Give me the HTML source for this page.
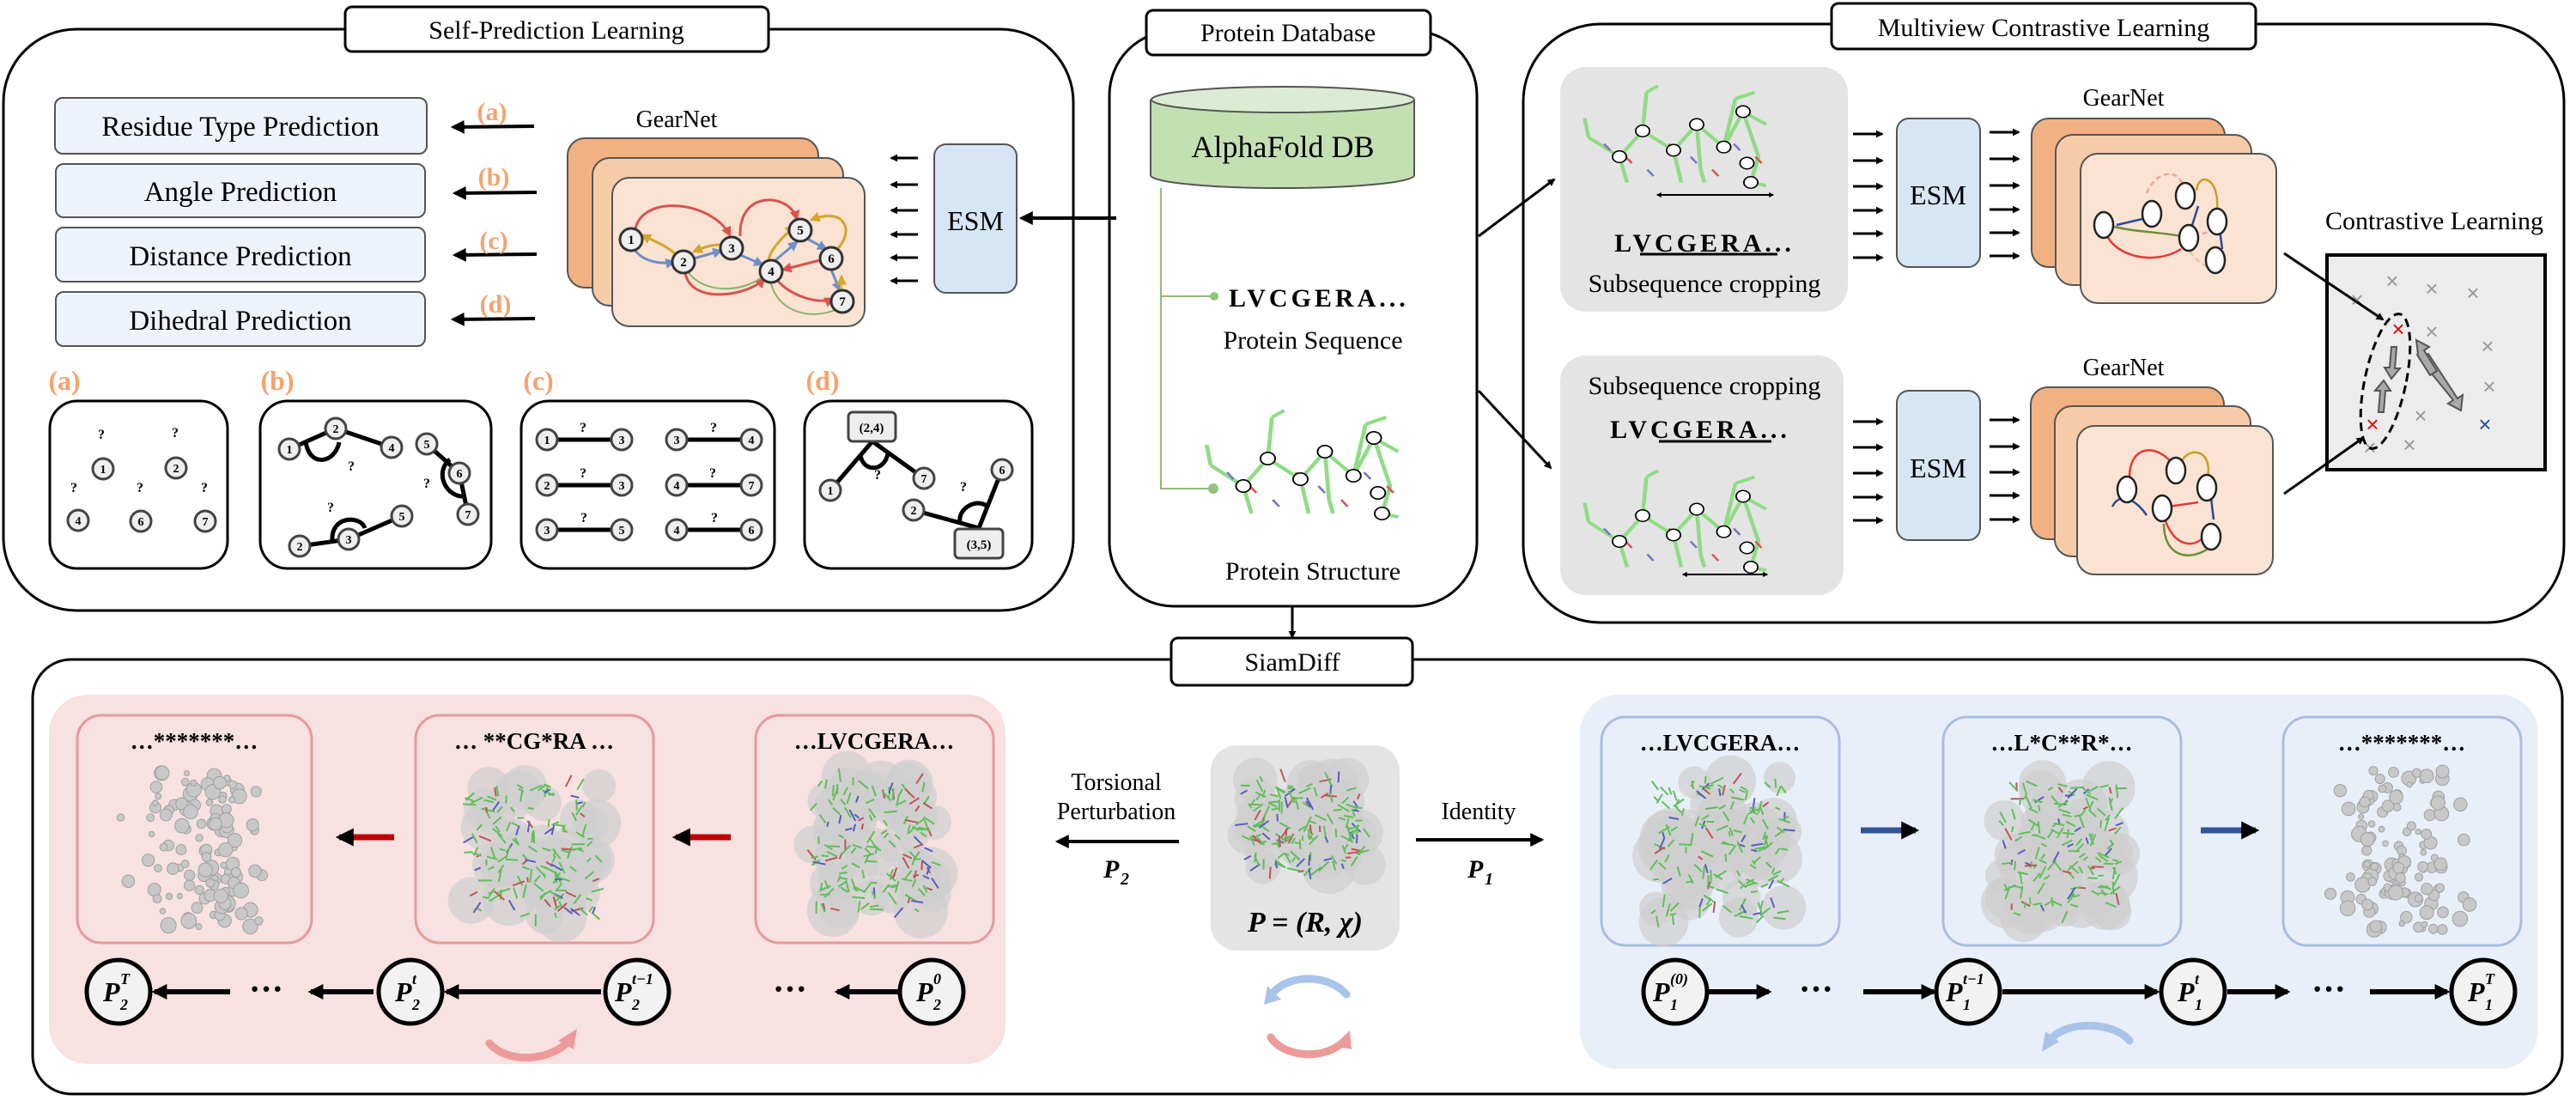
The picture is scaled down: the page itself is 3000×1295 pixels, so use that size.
<!DOCTYPE html>
<html><head><meta charset="utf-8">
<style>
html,body{margin:0;padding:0;background:#fff;}
svg{display:block;}
svg text{font-family:"Liberation Serif",serif;}
svg text.sans{font-family:"Liberation Sans",sans-serif;}
</style></head>
<body>
<svg id="s" width="3000" height="1295" viewBox="0 0 3000 1295" xmlns="http://www.w3.org/2000/svg" font-family="'Liberation Serif', serif">
<defs>
<marker id="ah" viewBox="0 0 10 10" refX="8" refY="5" markerWidth="4" markerHeight="4" orient="auto-start-reverse"><path d="M0,0 L10,5 L0,10 z" fill="#000"/></marker>
<marker id="ahs" viewBox="0 0 10 10" refX="8" refY="5" markerWidth="3" markerHeight="3" orient="auto-start-reverse"><path d="M0,0 L10,5 L0,10 z" fill="#000"/></marker>
<marker id="mr" viewBox="0 0 10 10" refX="8" refY="5" markerWidth="4" markerHeight="4" orient="auto"><path d="M0,0 L10,5 L0,10 z" fill="#d9534f"/></marker>
<marker id="mb" viewBox="0 0 10 10" refX="8" refY="5" markerWidth="4" markerHeight="4" orient="auto"><path d="M0,0 L10,5 L0,10 z" fill="#6f8fc7"/></marker>
<marker id="my" viewBox="0 0 10 10" refX="8" refY="5" markerWidth="4" markerHeight="4" orient="auto"><path d="M0,0 L10,5 L0,10 z" fill="#d4a52a"/></marker>
</defs>

<!-- ============ SELF-PREDICTION ============ -->
<rect x="4" y="34" width="1246" height="677" rx="85" fill="none" stroke="#000" stroke-width="3"/>
<rect x="402" y="8" width="493" height="52" rx="8" fill="#fff" stroke="#000" stroke-width="3"/>
<text x="648" y="45" font-size="30" text-anchor="middle">Self-Prediction Learning</text>

<g fill="#eef2fb" stroke="#555" stroke-width="2">
<rect x="64" y="114" width="433" height="65" rx="9"/>
<rect x="65" y="191" width="430" height="62" rx="9"/>
<rect x="65" y="265" width="430" height="63" rx="9"/>
<rect x="65" y="340" width="430" height="63" rx="9"/>
</g>
<g font-size="33" text-anchor="middle">
<text x="280" y="158">Residue Type Prediction</text>
<text x="280" y="234">Angle Prediction</text>
<text x="280" y="309">Distance Prediction</text>
<text x="280" y="384">Dihedral Prediction</text>
</g>
<g stroke="#000" stroke-width="4" marker-end="url(#ah)">
<line x1="622" y1="147" x2="528" y2="148"/>
<line x1="625" y1="224" x2="530" y2="225"/>
<line x1="625" y1="296" x2="530" y2="297"/>
<line x1="623" y1="371" x2="528" y2="372"/>
</g>
<g font-size="30" font-weight="bold" fill="#f4a46e" text-anchor="middle">
<text x="573" y="140">(a)</text><text x="575" y="216">(b)</text><text x="575" y="290">(c)</text><text x="577" y="364">(d)</text>
</g>
<text x="788" y="148" font-size="28" text-anchor="middle">GearNet</text>
<rect x="661" y="161" width="292" height="174" rx="20" fill="#f2b183" stroke="#555" stroke-width="2"/>
<rect x="690" y="184" width="292" height="172" rx="20" fill="#f7cba7" stroke="#555" stroke-width="2"/>
<rect x="713" y="207" width="294" height="173" rx="20" fill="#fae3d3" stroke="#555" stroke-width="2"/>
<g fill="none" stroke-width="3">
<path d="M740,266 C750,225 830,235 850,274" stroke="#d9534f" marker-end="url(#mr)"/>
<path d="M862,275 C860,220 920,225 928,255" stroke="#d9534f" marker-end="url(#mr)"/>
<path d="M798,318 C805,355 870,345 890,325" stroke="#d9534f" marker-end="url(#mr)"/>
<path d="M905,326 C920,345 955,355 970,348" stroke="#d9534f" marker-end="url(#mr)"/>
<path d="M955,303 L912,314" stroke="#d9534f" marker-end="url(#mr)"/>
<path d="M740,292 C750,305 770,308 785,305" stroke="#6f8fc7" marker-end="url(#mb)"/>
<path d="M808,301 L840,292" stroke="#6f8fc7" marker-end="url(#mb)"/>
<path d="M862,297 L888,308" stroke="#6f8fc7" marker-end="url(#mb)"/>
<path d="M903,303 L928,282" stroke="#6f8fc7" marker-end="url(#mb)"/>
<path d="M940,278 L962,290" stroke="#6f8fc7" marker-end="url(#mb)"/>
<path d="M968,314 L978,338" stroke="#6f8fc7" marker-end="url(#mb)"/>
<path d="M788,297 C775,285 760,280 748,274" stroke="#d4a52a" marker-end="url(#my)"/>
<path d="M840,285 C825,285 815,290 808,293" stroke="#d4a52a" marker-end="url(#my)"/>
<path d="M895,305 C895,290 920,268 925,265" stroke="#d4a52a" marker-end="url(#my)"/>
<path d="M975,290 C995,270 985,240 945,256" stroke="#d4a52a" marker-end="url(#my)"/>
<path d="M980,339 L980,322" stroke="#f5c518" marker-end="url(#my)"/>
<path d="M800,315 C820,345 870,340 890,320" stroke="#8ab36a" stroke-width="2"/>
<path d="M975,360 C940,375 905,360 898,330" stroke="#8ab36a" stroke-width="2"/>
</g>
<g font-size="15" font-weight="bold" text-anchor="middle">
<g fill="#eee" stroke="#333" stroke-width="3">
<circle cx="735" cy="279" r="13"/><circle cx="796" cy="305" r="13"/><circle cx="852" cy="289" r="13"/><circle cx="898" cy="316" r="13"/><circle cx="932" cy="268" r="13"/><circle cx="968" cy="301" r="13"/><circle cx="981" cy="351" r="13"/>
</g>
<text x="735" y="284">1</text><text x="796" y="310">2</text><text x="852" y="294">3</text><text x="898" y="321">4</text><text x="932" y="273">5</text><text x="968" y="306">6</text><text x="981" y="356">7</text>
</g>
<rect x="1088" y="168" width="96" height="173" rx="14" fill="#d6e6f5" stroke="#555" stroke-width="2"/>
<text x="1136" y="268" font-size="32" text-anchor="middle">ESM</text>
<g stroke="#000" stroke-width="3" marker-end="url(#ahs)">
<line x1="1069" y1="184" x2="1038" y2="184"/><line x1="1069" y1="215" x2="1038" y2="215"/><line x1="1069" y1="245" x2="1038" y2="245"/><line x1="1069" y1="273" x2="1038" y2="273"/><line x1="1069" y1="300" x2="1038" y2="300"/><line x1="1069" y1="327" x2="1038" y2="327"/>
</g>
<line x1="1300" y1="254" x2="1190" y2="254" stroke="#000" stroke-width="4" marker-end="url(#ah)"/>

<g font-size="32" font-weight="bold" fill="#f4a46e" text-anchor="middle">
<text x="75" y="454">(a)</text><text x="323" y="454">(b)</text><text x="627" y="454">(c)</text><text x="958" y="454">(d)</text>
</g>
<g fill="none" stroke="#000" stroke-width="3">
<rect x="58" y="467" width="207" height="195" rx="32"/>
<rect x="303" y="467" width="269" height="195" rx="32"/>
<rect x="607" y="467" width="295" height="195" rx="32"/>
<rect x="937" y="467" width="265" height="195" rx="32"/>
</g>
<g font-size="14" font-weight="bold" text-anchor="middle">
<g stroke="#000" stroke-width="5" fill="none">
<path d="M337,523 L391,499 L456,521"/><path d="M356,514 C360,545 390,540 395,515"/>
<path d="M497,517 L535,551 L545,599"/><path d="M524,535 C505,550 520,580 541,578"/>
<path d="M349,636 L406,628 L468,601"/><path d="M387,630 C385,600 420,600 425,615"/>
<line x1="637" y1="512" x2="724" y2="512"/><line x1="788" y1="512" x2="875" y2="512"/>
<line x1="637" y1="565" x2="724" y2="565"/><line x1="788" y1="565" x2="875" y2="565"/>
<line x1="637" y1="617" x2="724" y2="617"/><line x1="788" y1="617" x2="875" y2="617"/>
<path d="M967,571 L1016,514 L1076,557"/><path d="M1002,530 C1005,550 1030,550 1034,528"/>
<path d="M1064,594 L1140,615 L1167,547"/><path d="M1118,609 C1115,590 1140,580 1150,590"/>
</g>
<g fill="#eee" stroke="#444" stroke-width="3">
<circle cx="120" cy="546" r="12"/><circle cx="205" cy="545" r="12"/><circle cx="91" cy="606" r="12"/><circle cx="164" cy="607" r="12"/><circle cx="239" cy="607" r="12"/>
<circle cx="337" cy="523" r="12"/><circle cx="391" cy="499" r="12"/><circle cx="456" cy="521" r="12"/><circle cx="497" cy="517" r="12"/><circle cx="535" cy="551" r="12"/><circle cx="545" cy="599" r="12"/><circle cx="349" cy="636" r="12"/><circle cx="406" cy="628" r="12"/><circle cx="468" cy="601" r="12"/>
<circle cx="637" cy="512" r="12"/><circle cx="724" cy="512" r="12"/><circle cx="788" cy="512" r="12"/><circle cx="875" cy="512" r="12"/>
<circle cx="637" cy="565" r="12"/><circle cx="724" cy="565" r="12"/><circle cx="788" cy="565" r="12"/><circle cx="875" cy="565" r="12"/>
<circle cx="637" cy="617" r="12"/><circle cx="724" cy="617" r="12"/><circle cx="788" cy="617" r="12"/><circle cx="875" cy="617" r="12"/>
<circle cx="967" cy="571" r="12"/><circle cx="1076" cy="557" r="12"/><circle cx="1167" cy="547" r="12"/><circle cx="1064" cy="594" r="12"/>
</g>
<rect x="988" y="480" width="55" height="34" rx="5" fill="#eee" stroke="#444" stroke-width="3"/>
<rect x="1112" y="616" width="56" height="34" rx="5" fill="#eee" stroke="#444" stroke-width="3"/>
<text x="1015" y="503" font-size="15">(2,4)</text><text x="1140" y="639" font-size="15">(3,5)</text>
<text x="120" y="551">1</text><text x="205" y="550">2</text><text x="91" y="611">4</text><text x="164" y="612">6</text><text x="239" y="612">7</text>
<text x="337" y="528">1</text><text x="391" y="504">2</text><text x="456" y="526">4</text><text x="497" y="522">5</text><text x="535" y="556">6</text><text x="545" y="604">7</text><text x="349" y="641">2</text><text x="406" y="633">3</text><text x="468" y="606">5</text>
<text x="637" y="517">1</text><text x="724" y="517">3</text><text x="788" y="517">3</text><text x="875" y="517">4</text>
<text x="637" y="570">2</text><text x="724" y="570">3</text><text x="788" y="570">4</text><text x="875" y="570">7</text>
<text x="637" y="622">3</text><text x="724" y="622">5</text><text x="788" y="622">4</text><text x="875" y="622">6</text>
<text x="967" y="576">1</text><text x="1076" y="562">7</text><text x="1167" y="552">6</text><text x="1064" y="599">2</text>
<g font-size="16">
<text x="118" y="511">?</text><text x="204" y="509">?</text><text x="86" y="573">?</text><text x="163" y="573">?</text><text x="238" y="573">?</text>
<text x="409" y="548">?</text><text x="497" y="568">?</text><text x="385" y="596">?</text>
<text x="679" y="503">?</text><text x="831" y="503">?</text><text x="679" y="556">?</text><text x="830" y="556">?</text><text x="680" y="608">?</text><text x="832" y="608">?</text>
<text x="1022" y="558">?</text><text x="1122" y="572">?</text>
</g>
</g>

<!-- ============ PROTEIN DATABASE ============ -->
<rect x="1292" y="36" width="428" height="670" rx="75" fill="none" stroke="#000" stroke-width="3"/>
<rect x="1335" y="12" width="331" height="52" rx="8" fill="#fff" stroke="#000" stroke-width="3"/>
<text x="1500" y="48" font-size="30" text-anchor="middle">Protein Database</text>
<path d="M1340,116 L1340,204 A153,15 0 0 0 1647,204 L1647,116" fill="#c3e0b3" stroke="#555" stroke-width="2"/>
<ellipse cx="1494" cy="116" rx="153" ry="15" fill="#dcecd2" stroke="#555" stroke-width="2"/>
<text x="1494" y="183" font-size="36" text-anchor="middle">AlphaFold DB</text>
<path d="M1352,219 L1352,569 L1410,569 M1352,345 L1410,345" fill="none" stroke="#6aa84f" stroke-width="1.5"/>
<circle cx="1414" cy="345" r="5" fill="#93c47d"/><circle cx="1413" cy="569" r="6" fill="#93c47d"/>
<text x="1431" y="357" font-size="30" font-weight="bold" letter-spacing="4">LVCGERA...</text>
<text x="1529" y="406" font-size="30" text-anchor="middle">Protein Sequence</text>
<text x="1529" y="675" font-size="30" text-anchor="middle">Protein Structure</text>
<g id="mol1" transform="translate(1410,478) scale(0.95,0.8)"></g>
<line x1="1505" y1="706" x2="1505" y2="742" stroke="#000" stroke-width="3" marker-end="url(#ahs)"/>

<!-- ============ MULTIVIEW ============ -->
<rect x="1774" y="28" width="1212" height="697" rx="90" fill="none" stroke="#000" stroke-width="3"/>
<rect x="2133" y="4" width="494" height="53" rx="8" fill="#fff" stroke="#000" stroke-width="3"/>
<text x="2380" y="42" font-size="30" text-anchor="middle">Multiview Contrastive Learning</text>
<line x1="1722" y1="275" x2="1810" y2="209" stroke="#000" stroke-width="3" marker-end="url(#ahs)"/>
<line x1="1722" y1="455" x2="1806" y2="545" stroke="#000" stroke-width="3" marker-end="url(#ahs)"/>
<rect x="1817" y="78" width="335" height="285" rx="30" fill="#e4e4e4"/>
<rect x="1817" y="414" width="330" height="279" rx="30" fill="#e4e4e4"/>
<g id="mol2" transform="translate(1850,100) scale(0.9,0.75)"></g>
<g id="mol3" transform="translate(1850,548) scale(0.9,0.75)"></g>
<line x1="1930" y1="227" x2="2065" y2="227" stroke="#000" stroke-width="2" marker-start="url(#ahs)" marker-end="url(#ahs)"/>
<line x1="1960" y1="669" x2="2058" y2="669" stroke="#000" stroke-width="2" marker-start="url(#ahs)" marker-end="url(#ahs)"/>
<text x="1985" y="293" font-size="30" font-weight="bold" text-anchor="middle" letter-spacing="4">LVCGERA...</text>
<line x1="1910" y1="296" x2="2070" y2="296" stroke="#000" stroke-width="3"/>
<text x="1985" y="340" font-size="30" text-anchor="middle">Subsequence cropping</text>
<text x="1985" y="459" font-size="30" text-anchor="middle">Subsequence cropping</text>
<text x="1980" y="510" font-size="30" font-weight="bold" text-anchor="middle" letter-spacing="4">LVCGERA...</text>
<line x1="1932" y1="514" x2="2063" y2="514" stroke="#000" stroke-width="3"/>
<rect x="2209" y="138" width="97" height="173" rx="14" fill="#d6e6f5" stroke="#555" stroke-width="2"/>
<text x="2257" y="238" font-size="32" text-anchor="middle">ESM</text>
<rect x="2209" y="455" width="97" height="174" rx="14" fill="#d6e6f5" stroke="#555" stroke-width="2"/>
<text x="2257" y="556" font-size="32" text-anchor="middle">ESM</text>
<g stroke="#000" stroke-width="3" marker-end="url(#ahs)">
<line x1="2158" y1="156" x2="2192" y2="156"/><line x1="2158" y1="187" x2="2192" y2="187"/><line x1="2158" y1="217" x2="2192" y2="217"/><line x1="2158" y1="245" x2="2192" y2="245"/><line x1="2158" y1="272" x2="2192" y2="272"/><line x1="2158" y1="300" x2="2192" y2="300"/>
<line x1="2317" y1="154" x2="2351" y2="154"/><line x1="2317" y1="185" x2="2351" y2="185"/><line x1="2317" y1="216" x2="2351" y2="216"/><line x1="2317" y1="244" x2="2351" y2="244"/><line x1="2317" y1="271" x2="2351" y2="271"/><line x1="2317" y1="298" x2="2351" y2="298"/>
<line x1="2158" y1="491" x2="2192" y2="491"/><line x1="2158" y1="521" x2="2192" y2="521"/><line x1="2158" y1="551" x2="2192" y2="551"/><line x1="2158" y1="579" x2="2192" y2="579"/><line x1="2158" y1="606" x2="2192" y2="606"/>
<line x1="2317" y1="489" x2="2351" y2="489"/><line x1="2317" y1="520" x2="2351" y2="520"/><line x1="2317" y1="550" x2="2351" y2="550"/><line x1="2317" y1="577" x2="2351" y2="577"/><line x1="2317" y1="605" x2="2351" y2="605"/>
</g>
<text x="2473" y="123" font-size="28" text-anchor="middle">GearNet</text>
<rect x="2366" y="138" width="225" height="173" rx="20" fill="#f2b183" stroke="#555" stroke-width="2"/>
<rect x="2394" y="157" width="228" height="175" rx="20" fill="#f7cba7" stroke="#555" stroke-width="2"/>
<rect x="2423" y="179" width="228" height="174" rx="20" fill="#fae3d3" stroke="#555" stroke-width="2"/>
<text x="2473" y="437" font-size="28" text-anchor="middle">GearNet</text>
<rect x="2365" y="451" width="225" height="177" rx="20" fill="#f2b183" stroke="#555" stroke-width="2"/>
<rect x="2393" y="473" width="228" height="175" rx="20" fill="#f7cba7" stroke="#555" stroke-width="2"/>
<rect x="2419" y="496" width="228" height="173" rx="20" fill="#fae3d3" stroke="#555" stroke-width="2"/>
<g fill="none" stroke-width="2.5">
<path d="M2450,262 C2455,300 2510,310 2540,290" stroke="#e53935"/>
<path d="M2455,262 C2480,270 2515,270 2540,275" stroke="#6a8f3a"/>
<path d="M2465,262 L2495,255" stroke="#2a4a9a"/>
<path d="M2500,225 C2510,200 2535,195 2542,215" stroke="#f4a0a0" stroke-dasharray="6,4"/>
<path d="M2558,222 C2560,200 2585,205 2582,245" stroke="#c8a020"/>
<path d="M2550,272 L2560,240" stroke="#2a4a9a"/>
<path d="M2583,252 L2588,290" stroke="#2a4a9a"/>
<path d="M2545,285 C2560,310 2580,320 2590,305" stroke="#d9c9a0" stroke-dasharray="6,4"/>
<path d="M2555,275 L2580,268" stroke="#f4a0a0" stroke-dasharray="6,4"/>
<path d="M2460,590 C2470,570 2490,585 2500,600" stroke="#2a4a9a"/>
<path d="M2480,555 C2480,520 2510,515 2530,540" stroke="#e53935"/>
<path d="M2525,590 L2560,585" stroke="#e53935"/>
<path d="M2520,600 C2530,640 2560,640 2570,620" stroke="#e53935"/>
<path d="M2520,610 C2520,645 2545,655 2570,640" stroke="#6a8f3a"/>
<path d="M2540,540 C2545,520 2580,520 2570,560" stroke="#c8a020"/>
<path d="M2575,580 L2578,605" stroke="#2a4a9a"/>
</g>
<g fill="#fff" stroke="#222" stroke-width="2.5">
<ellipse cx="2450" cy="262" rx="11" ry="15"/><ellipse cx="2506" cy="249" rx="11" ry="15"/><ellipse cx="2545" cy="228" rx="11" ry="15"/><ellipse cx="2549" cy="277" rx="11" ry="15"/><ellipse cx="2582" cy="258" rx="11" ry="15"/><ellipse cx="2580" cy="303" rx="11" ry="15"/>
<ellipse cx="2477" cy="570" rx="11" ry="15"/><ellipse cx="2534" cy="548" rx="11" ry="15"/><ellipse cx="2518" cy="592" rx="11" ry="15"/><ellipse cx="2570" cy="568" rx="11" ry="15"/><ellipse cx="2575" cy="625" rx="11" ry="15"/>
</g>
<text x="2835" y="267" font-size="30" text-anchor="middle">Contrastive Learning</text>
<rect x="2710" y="297" width="254" height="250" fill="#ececec" stroke="#000" stroke-width="4"/>
<g font-size="26" fill="#999" text-anchor="middle">
<text class="sans" x="2786" y="336">×</text><text class="sans" x="2832" y="345">×</text><text class="sans" x="2880" y="350">×</text><text class="sans" x="2832" y="395">×</text><text class="sans" x="2897" y="412">×</text><text class="sans" x="2899" y="459">×</text><text class="sans" x="2819" y="493">×</text><text class="sans" x="2760" y="530">×</text><text class="sans" x="2806" y="527">×</text><text class="sans" x="2745" y="358">×</text>
<text class="sans" x="2793" y="392" fill="#e00">×</text><text class="sans" x="2763" y="503" fill="#e00">×</text><text class="sans" x="2894" y="503" fill="#2a4a9a">×</text>
</g>
<ellipse cx="2778" cy="444" rx="24" ry="80" transform="rotate(12 2778 444)" fill="none" stroke="#000" stroke-width="3" stroke-dasharray="10,6"/>
<g fill="#aaa" stroke="#555" stroke-width="2">
<path d="M2785,404 l6,0 l-2,25 l6,0 l-10,12 l-8,-13 l6,0 z"/>
<path d="M2770,480 l6,0 l2,-25 l6,0 l-8,-12 l-10,12 l6,0 z"/>
<path d="M2818,418 l10,-6 l34,52 l6,-4 l-2,18 l-15,-8 l6,-4 z"/>
<path d="M2816,412 l-2,-16 l15,8 l-6,4 l15,24 l-8,5 l-15,-24 z"/>
</g>
<line x1="2660" y1="295" x2="2775" y2="372" stroke="#000" stroke-width="3" marker-end="url(#ahs)"/>
<line x1="2660" y1="575" x2="2752" y2="510" stroke="#000" stroke-width="3" marker-end="url(#ahs)"/>

<!-- ============ SIAMDIFF ============ -->
<rect x="38" y="768" width="2946" height="506" rx="45" fill="none" stroke="#000" stroke-width="3"/>
<rect x="1364" y="743" width="281" height="55" rx="8" fill="#fff" stroke="#000" stroke-width="3"/>
<text x="1505" y="781" font-size="30" text-anchor="middle">SiamDiff</text>
<rect x="57" y="809" width="1114" height="430" rx="45" fill="#f7e1e1"/>
<rect x="1840" y="809" width="1116" height="436" rx="45" fill="#e9eff9"/>
<g fill="#f7e1e1" stroke="#e69a9a" stroke-width="3">
<rect x="90" y="833" width="273" height="265" rx="28"/><rect x="484" y="833" width="277" height="265" rx="28"/><rect x="880" y="833" width="277" height="265" rx="28"/>
</g>
<g fill="#e9eff9" stroke="#a9bedf" stroke-width="3">
<rect x="1865" y="835" width="277" height="266" rx="28"/><rect x="2263" y="835" width="277" height="266" rx="28"/><rect x="2659" y="835" width="277" height="266" rx="28"/>
</g>
<g font-size="27" font-weight="bold" text-anchor="middle">
<text x="226" y="872">…*******…</text><text x="622" y="872">… **CG*RA …</text><text x="1018" y="872">…LVCGERA…</text>
<text x="2003" y="874">…LVCGERA…</text><text x="2401" y="874">…L*C**R*…</text><text x="2797" y="874">…*******…</text>
</g>
<g id="blobs"></g>
<rect x="1410" y="868" width="220" height="239" rx="30" fill="#e4e4e4"/>
<g id="blobc"></g>
<text x="1520" y="1085" font-size="34" font-weight="bold" font-style="italic" text-anchor="middle">P = (R, χ)</text>
<g stroke-width="7">
<line x1="459" y1="975" x2="395" y2="975" stroke="#c00000" marker-end="url(#ahs)"/>
<line x1="851" y1="975" x2="787" y2="975" stroke="#c00000" marker-end="url(#ahs)"/>
<line x1="2167" y1="967" x2="2231" y2="967" stroke="#2f5597" marker-end="url(#ahs)"/>
<line x1="2563" y1="967" x2="2627" y2="967" stroke="#2f5597" marker-end="url(#ahs)"/>
</g>
<text x="1300" y="920" font-size="28" text-anchor="middle">Torsional</text>
<text x="1300" y="954" font-size="28" text-anchor="middle">Perturbation</text>
<text x="1722" y="954" font-size="28" text-anchor="middle">Identity</text>
<line x1="1373" y1="980" x2="1232" y2="980" stroke="#000" stroke-width="4" marker-end="url(#ah)"/>
<line x1="1649" y1="978" x2="1795" y2="978" stroke="#000" stroke-width="4" marker-end="url(#ah)"/>
<g font-weight="bold" font-style="italic">
<text x="1285" y="1022" font-size="30">P</text><text x="1305" y="1030" font-size="20">2</text>
<text x="1709" y="1022" font-size="30">P</text><text x="1729" y="1030" font-size="20">1</text>
</g>
<g fill="none" stroke-width="9" stroke-linecap="round">
<path d="M1480,1160 C1495,1135 1545,1132 1568,1158" stroke="#a9c4ea"/>
<path d="M1480,1208 C1495,1232 1545,1236 1568,1210" stroke="#ec9a9a"/>
<path d="M570,1215 C590,1238 640,1238 665,1210" stroke="#ec9a9a"/>
<path d="M2385,1215 C2400,1188 2460,1188 2480,1212" stroke="#a9c4ea"/>
</g>
<path d="M1476,1148 l-4,22 l20,-6 z" fill="#a9c4ea"/>
<path d="M1572,1200 l2,22 l-20,-4 z" fill="#ec9a9a"/>
<path d="M672,1198 l-4,24 l-18,-10 z" fill="#ec9a9a"/>
<path d="M2378,1225 l4,-24 l16,12 z" fill="#a9c4ea"/>
<g stroke="#000" stroke-width="6" marker-end="url(#ahs)">
<line x1="1048" y1="1155" x2="975" y2="1155"/><line x1="700" y1="1155" x2="520" y2="1155"/><line x1="435" y1="1155" x2="362" y2="1155"/><line x1="268" y1="1155" x2="180" y2="1155"/>
<line x1="1988" y1="1155" x2="2060" y2="1155"/><line x1="2170" y1="1155" x2="2252" y2="1155"/><line x1="2332" y1="1155" x2="2512" y2="1155"/><line x1="2594" y1="1155" x2="2664" y2="1155"/><line x1="2760" y1="1155" x2="2850" y2="1155"/>
</g>
<g font-size="40" font-weight="bold" text-anchor="middle">
<text x="920" y="1165">···</text><text x="310" y="1165">···</text><text x="2115" y="1165">···</text><text x="2712" y="1165">···</text>
</g>
<g fill="#f2f2f2" stroke="#000" stroke-width="5">
<circle cx="138" cy="1155" r="37"/><circle cx="478" cy="1155" r="37"/><circle cx="742" cy="1155" r="37"/><circle cx="1085" cy="1155" r="37"/>
<circle cx="1951" cy="1155" r="37"/><circle cx="2292" cy="1155" r="37"/><circle cx="2554" cy="1155" r="37"/><circle cx="2892" cy="1155" r="37"/>
</g>
<g id="plabels" font-weight="bold" font-style="italic"></g>
</svg>
<script>
(function(){
var NS="http://www.w3.org/2000/svg";
var seed=7;function r(){seed=(seed*16807)%2147483647;return seed/2147483647;}
function el(t,a,p,txt){var e=document.createElementNS(NS,t);for(var k in a)e.setAttribute(k,a[k]);p.appendChild(e);if(txt)e.textContent=txt;return e;}
function mol(g){
 var pts=[[0,80],[40,110],[70,70],[110,100],[140,60],[175,95],[200,40],[220,110],[210,150]];
 var d="M"+pts.map(function(p){return p.join(",")}).join(" L");
 el("path",{d:d,fill:"none",stroke:"#8fdc85","stroke-width":5,"stroke-linejoin":"round"},g);
 var br=[[40,110,50,150],[70,70,75,10],[75,10,90,0],[110,100,120,150],[175,95,190,20],[190,20,215,10],[140,60,145,130],[145,130,150,150],[200,40,230,60],[210,150,230,155],[0,80,-5,50]];
 br.forEach(function(b){el("line",{x1:b[0],y1:b[1],x2:b[2],y2:b[3],stroke:"#8fdc85","stroke-width":5},g);});
 for(var i=0;i<8;i++){el("line",{x1:20+i*28,y1:90+(i%3)*20,x2:28+i*28,y2:100+(i%3)*20,stroke:i%2?"#d55":"#77c","stroke-width":3},g);}
 [[40,110],[70,70],[110,100],[140,60],[175,95],[200,40],[210,150],[205,120]].forEach(function(p){el("circle",{cx:p[0],cy:p[1],r:9,fill:"#fff",stroke:"#000","stroke-width":2},g);});
}
["mol1","mol2","mol3"].forEach(function(id){mol(document.getElementById(id));});
function blob(g,cx,cy,w,h,dense){
 if(dense){
  for(var i=0;i<40;i++){var x=cx+(r()-.5)*w*0.85,y=cy+(r()-.5)*h*0.85;el("circle",{cx:x,cy:y,r:18+r()*14,fill:"#cfcfcf",opacity:0.7},g);}
  for(var i=0;i<160;i++){var x=cx+(r()-.5)*w*0.8,y=cy+(r()-.5)*h*0.8,a=r()*6.28,l=6+r()*10;
   var c=r()<0.75?"#5fbf5a":(r()<0.5?"#5560c0":"#c05555");
   el("line",{x1:x,y1:y,x2:x+Math.cos(a)*l,y2:y+Math.sin(a)*l,stroke:c,"stroke-width":2},g);}
 }else{
  for(var i=0;i<120;i++){var x=cx+(r()-.5)*w*(r()<0.7?0.55:0.95),y=cy+(r()-.5)*h*0.95;el("circle",{cx:x,cy:y,r:3+r()*6,fill:"#c8c8c8",stroke:"#a0a0a0","stroke-width":1},g);}
 }
}
var b=document.getElementById("blobs");
blob(b,226,990,180,190,false);blob(b,622,990,180,190,true);blob(b,1018,985,170,195,true);
blob(b,2003,990,190,200,true);blob(b,2401,990,170,190,true);blob(b,2797,990,180,195,false);
blob(document.getElementById("blobc"),1520,960,170,140,true);
var pl=document.getElementById("plabels");
[[138,"T","2"],[478,"t","2"],[742,"t−1","2"],[1085,"0","2"],[1951,"(0)","1"],[2292,"t−1","1"],[2554,"t","1"],[2892,"T","1"]].forEach(function(p){
 var cx=p[0];var sh=p[1].length>1?8:0;
 el("text",{x:cx-18-sh,y:1166,"font-size":32},pl,"P");
 el("text",{x:cx+2-sh,y:1146,"font-size":18},pl,p[1]);
 el("text",{x:cx+2-sh,y:1176,"font-size":18},pl,p[2]);
});
})();
</script>
</body></html>
